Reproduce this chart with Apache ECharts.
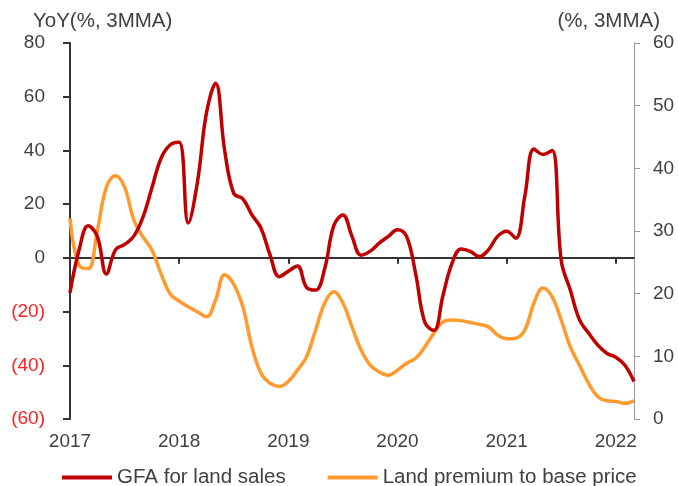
<!DOCTYPE html>
<html>
<head>
<meta charset="utf-8">
<script src="https://cdn.jsdelivr.net/npm/echarts@6/dist/echarts.min.js"></script>
<style>
  html, body { margin: 0; padding: 0; background: #fff; }
  #main { width: 678px; height: 486px; }
</style>
</head>
<body>
<div id="main"></div>
<script>
// year labels on the x axis
var years = ['2017', '2018', '2019', '2020', '2021', '2022'];
// monthly categories, Jan 2017 - Mar 2022
var months = [];
for (var y = 2017; y <= 2022; y++) {
  for (var m = 1; m <= 12; m++) {
    if (y === 2022 && m > 3) break;
    months.push(y + '-' + (m < 10 ? '0' + m : m));
  }
}

// GFA for land sales, YoY % 3MMA (left axis)
var gfaLand = [
  -13, 3, 12, 8, -6, 3, 5, 8, 15, 26, 37, 42,
  43, 13, 28, 54, 65, 40, 24, 22, 16, 11, 1, -7,
  -5, -3, -11, -12, -4, 12, 16, 8, 1, 2.5, 5.5, 8,
  10.5, 8, -6, -24, -27, -14, -2, 3.3, 2.4, 0.5, 3, 8,
  9.9, 7.3, 23, 40.5, 38.5, 40, -1, -12, -23, -28, -32.4, -35.5,
  -37, -40, -46
];

// Land premium to base price, % 3MMA (right axis)
var landPremium = [
  32, 24.5, 24, 30, 37, 38.8, 37, 31.8, 29.1, 27, 23.2, 20,
  18.8, 17.9, 17.1, 16.3, 19, 23, 21.5, 17.9, 11.5, 7.3, 5.7, 5.2,
  6, 7.8, 9.9, 14.2, 18.5, 20.3, 18.5, 14.7, 11, 8.6, 7.5, 7,
  7.8, 8.9, 9.7, 11.5, 13.7, 15.5, 15.8, 15.7, 15.4, 15.1, 14.7, 13.4,
  12.8, 12.9, 14.2, 18.5, 20.9, 19.5, 15.8, 11.5, 8.6, 5.7, 3.6, 2.9,
  2.8, 2.5, 2.9
];

var leftTicks = { min: -60, max: 80, step: 20 };
var rightTicks = { min: 0, max: 60, step: 10 };

var textColor = '#404040';
var fontFam = 'Liberation Sans, Arial, sans-serif';

function isYearStart(index) {
  return index % 12 === 0;
}

var myChart = echarts.init(document.getElementById('main'));

var option = {
  animation: false,
  backgroundColor: '#fff',
  grid: { left: 70, right: 44, top: 43, bottom: 67 },
  graphic: [
    {
      type: 'text', left: 33, top: 11,
      style: { text: 'YoY(%, 3MMA)', fill: textColor, font: '20.5px ' + fontFam }
    },
    {
      type: 'text', right: 18, top: 11,
      style: { text: '(%, 3MMA)', fill: textColor, font: '20.5px ' + fontFam }
    }
  ],
  legend: {
    left: 57, top: 462,
    itemWidth: 50, itemHeight: 4, itemGap: 42,
    icon: 'rect',
    textStyle: { color: textColor, fontSize: 20.5, fontFamily: fontFam },
    data: ['GFA for land sales', 'Land premium to base price']
  },
  xAxis: [
    {
      type: 'category',
      data: months,
      boundaryGap: false,
      position: 'bottom',
      axisLine: { show: false },
      axisTick: { show: false },
      axisLabel: {
        interval: function (index) { return isYearStart(index); },
        formatter: function (v) { return v.slice(0, 4); },
        color: textColor, fontSize: 19, fontFamily: fontFam, margin: 13
      },
      splitLine: { show: false }
    },
    {
      type: 'category',
      data: months,
      boundaryGap: false,
      position: 'top',
      axisLine: { show: true, onZero: true, onZeroAxisIndex: 0, lineStyle: { color: '#333', width: 2 } },
      axisTick: {
        show: true, inside: true, length: 6,
        interval: function (index) { return isYearStart(index); },
        lineStyle: { color: '#333', width: 2 }
      },
      axisLabel: { show: false },
      splitLine: { show: false }
    }
  ],
  yAxis: [
    {
      type: 'value',
      min: leftTicks.min, max: leftTicks.max, interval: leftTicks.step,
      position: 'left',
      axisLine: { show: true, onZero: false, lineStyle: { color: '#333', width: 2 } },
      axisTick: { show: true, length: 7, lineStyle: { color: '#333', width: 2 } },
      axisLabel: {
        margin: 25,
        fontSize: 19, fontFamily: fontFam,
        color: function (v) { return Number(v) < 0 ? '#ff2020' : textColor; },
        formatter: function (v) { return v < 0 ? '(' + Math.abs(v) + ')' : String(v); }
      },
      splitLine: { show: false }
    },
    {
      type: 'value',
      min: rightTicks.min, max: rightTicks.max, interval: rightTicks.step,
      position: 'right',
      axisLine: { show: true, onZero: false, lineStyle: { color: '#999', width: 1 } },
      axisTick: { show: true, length: 6, lineStyle: { color: '#999', width: 1 } },
      axisLabel: { margin: 19, fontSize: 19, fontFamily: fontFam, color: textColor },
      splitLine: { show: false }
    }
  ],
  series: [
    {
      name: 'GFA for land sales',
      type: 'line',
      xAxisIndex: 0, yAxisIndex: 0,
      data: gfaLand,
      smooth: 0.4,
      symbol: 'none',
      z: 3,
      itemStyle: { color: '#c00000' },
      lineStyle: { color: '#c00000', width: 3.5 }
    },
    {
      name: 'Land premium to base price',
      type: 'line',
      xAxisIndex: 0, yAxisIndex: 1,
      data: landPremium,
      smooth: 0.4,
      symbol: 'none',
      z: 2,
      itemStyle: { color: '#ff9a2e' },
      lineStyle: { color: '#ff9a2e', width: 3.5 }
    }
  ]
};

myChart.setOption(option);
</script>
</body>
</html>
